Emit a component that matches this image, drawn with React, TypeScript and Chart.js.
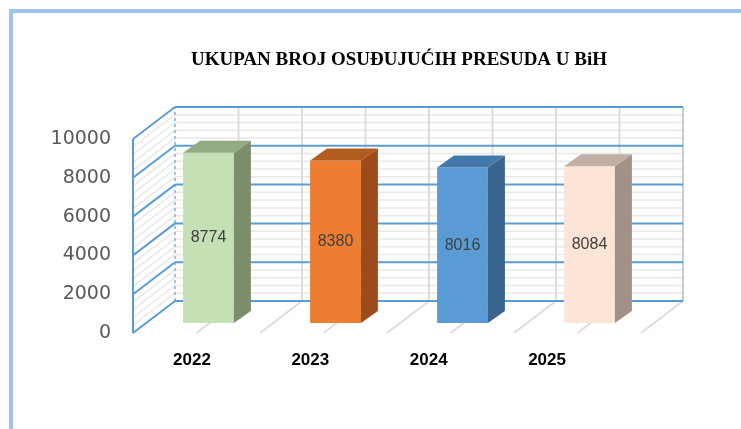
import React, { useEffect, useRef } from "react";
import { Chart, registerables } from "chart.js";

Chart.register(...registerables);

const categories = ["2022", "2023", "2024", "2025"];
const values = [8774, 8380, 8016, 8084];
const frontColors = ["#C5E0B4", "#ED7D31", "#5B9BD5", "#FCE4D6"];
const topColors = ["#93AA83", "#B35C20", "#4378AA", "#C1AFA4"];
const sideColors = ["#7C8E6C", "#9B4C1A", "#38648E", "#A29187"];
const yMax = 10000;
const yStep = 2000;
const yMinorStep = 400;
const titleText = "UKUPAN BROJ OSUĐUJUĆIH PRESUDA U BiH";

// 3D geometry (style only)
const BACK = { dx: 30, dy: -22 };
const FRONT = { dx: -12, dy: 10 };
const DEPTH = { dx: 17, dy: -12 };

function seg(ctx: CanvasRenderingContext2D, x1: number, y1: number, x2: number, y2: number) {
  ctx.beginPath();
  ctx.moveTo(x1, y1);
  ctx.lineTo(x2, y2);
  ctx.stroke();
}

const threeD = {
  id: "threeD",
  beforeDatasetsDraw(chart: any) {
    const { ctx, chartArea: a, scales } = chart;
    const y = scales.y;
    const L = a.left;
    const R = a.right;
    const y0 = y.getPixelForValue(0);
    const yT = y.getPixelForValue(yMax);
    const n = categories.length;
    const catW = (R - L) / n;
    ctx.save();
    ctx.lineCap = "butt";
    // minor horizontal lines
    ctx.strokeStyle = "#E8E8E8";
    ctx.lineWidth = 1.5;
    for (let v = yMinorStep; v < yMax; v += yMinorStep) {
      if (v % yStep === 0) continue;
      const py = y.getPixelForValue(v);
      seg(ctx, L + BACK.dx, py + BACK.dy, R + BACK.dx, py + BACK.dy);
      seg(ctx, L + FRONT.dx, py + FRONT.dy, L + BACK.dx, py + BACK.dy);
    }
    // vertical back wall lines + floor lines
    ctx.strokeStyle = "#DCDCDC";
    ctx.lineWidth = 2;
    for (let k = 1; k < 2 * n; k++) {
      const px = L + (k * catW) / 2;
      seg(ctx, px + BACK.dx, y0 + BACK.dy, px + BACK.dx, yT + BACK.dy);
      seg(ctx, px + BACK.dx, y0 + BACK.dy, px + FRONT.dx, y0 + FRONT.dy);
    }
    // right edge of back wall
    ctx.strokeStyle = "#C3CEDA";
    seg(ctx, R + BACK.dx, y0 + BACK.dy, R + BACK.dx, yT + BACK.dy);
    ctx.strokeStyle = "#DCDCDC";
    seg(ctx, R + BACK.dx, y0 + BACK.dy, R + FRONT.dx, y0 + FRONT.dy);
    // back-left dashed edge
    ctx.strokeStyle = "#9DC3E6";
    ctx.setLineDash([3, 3]);
    seg(ctx, L + BACK.dx, y0 + BACK.dy, L + BACK.dx, yT + BACK.dy);
    ctx.setLineDash([]);
    // major lines
    ctx.strokeStyle = "#5B9BD5";
    ctx.lineWidth = 2;
    for (let v = 0; v <= yMax; v += yStep) {
      const py = y.getPixelForValue(v);
      seg(ctx, L + BACK.dx, py + BACK.dy, R + BACK.dx, py + BACK.dy);
      seg(ctx, L + FRONT.dx, py + FRONT.dy, L + BACK.dx, py + BACK.dy);
    }
    // front-left edge
    seg(ctx, L + FRONT.dx, y0 + FRONT.dy, L + FRONT.dx, yT + FRONT.dy);
    ctx.restore();
  },
  afterDatasetsDraw(chart: any) {
    const { ctx, chartArea: a } = chart;
    const meta = chart.getDatasetMeta(0);
    ctx.save();
    meta.data.forEach((bar: any, i: number) => {
      const { x, y, base, width } = bar.getProps(["x", "y", "base", "width"], true);
      const l = x - width / 2;
      const r = x + width / 2;
      // side
      ctx.fillStyle = sideColors[i];
      ctx.beginPath();
      ctx.moveTo(r, y);
      ctx.lineTo(r + DEPTH.dx, y + DEPTH.dy);
      ctx.lineTo(r + DEPTH.dx, base + DEPTH.dy);
      ctx.lineTo(r, base);
      ctx.closePath();
      ctx.fill();
      // top
      ctx.fillStyle = topColors[i];
      ctx.beginPath();
      ctx.moveTo(l, y);
      ctx.lineTo(l + DEPTH.dx, y + DEPTH.dy);
      ctx.lineTo(r + DEPTH.dx, y + DEPTH.dy);
      ctx.lineTo(r, y);
      ctx.closePath();
      ctx.fill();
      // value label
      ctx.fillStyle = "#404040";
      ctx.font = "16px 'Liberation Sans'";
      ctx.textAlign = "center";
      ctx.textBaseline = "middle";
      ctx.fillText(String(values[i]), x, (y + base) / 2);
      // category label (perspective-adjusted)
      const cx = (a.left + a.right) / 2;
      const lx = cx - 29.5 + 0.932 * (x - cx);
      ctx.fillStyle = "#000000";
      ctx.font = "bold 17px 'Liberation Sans'";
      ctx.fillText(categories[i], lx, 360);
    });
    ctx.restore();
  },
  afterDraw(chart: any) {
    const { ctx } = chart;
    ctx.save();
    ctx.strokeStyle = "#9DC3E6";
    ctx.lineWidth = 4;
    ctx.beginPath();
    ctx.moveTo(11, 429);
    ctx.lineTo(11, 11);
    ctx.lineTo(741, 11);
    ctx.stroke();
    ctx.restore();
  },
};

export default function App() {
  const ref = useRef<HTMLCanvasElement | null>(null);
  useEffect(() => {
    if (!ref.current) return;
    const chart = new Chart(ref.current, {
      type: "bar",
      data: {
        labels: categories,
        datasets: [
          {
            data: values,
            backgroundColor: frontColors,
            borderWidth: 0,
            categoryPercentage: 0.4,
            barPercentage: 1,
          },
        ],
      },
      options: {
        responsive: false,
        animation: false,
        layout: { padding: { left: 45, right: 88, top: 0, bottom: 106 } },
        plugins: {
          legend: { display: false },
          tooltip: { enabled: false },
          title: {
            display: true,
            text: titleText,
            fullSize: false,
            color: "#000000",
            font: { family: "'Liberation Serif'", size: 19, weight: "bold", lineHeight: 1.2 },
            padding: { top: 48.6, bottom: 57.6 },
          },
        },
        scales: {
          x: { display: false },
          y: {
            min: 0,
            max: yMax,
            afterFit: (s: any) => {
              s.width = 100;
            },
            grid: { display: false, drawTicks: false },
            border: { display: false },
            ticks: {
              stepSize: yStep,
              padding: 34,
              labelOffset: 10,
              color: "#595959",
              font: { family: "'DejaVu Sans'", size: 19 },
              callback: (v: any) => String(v),
            },
          },
        },
      },
      plugins: [threeD],
    });
    return () => chart.destroy();
  }, []);
  return (
    <div style={{ position: "fixed", left: 0, top: 0, width: 741, height: 429, background: "#fff" }}>
      <canvas ref={ref} width={741} height={429} style={{ width: 741, height: 429, display: "block" }} />
    </div>
  );
}
